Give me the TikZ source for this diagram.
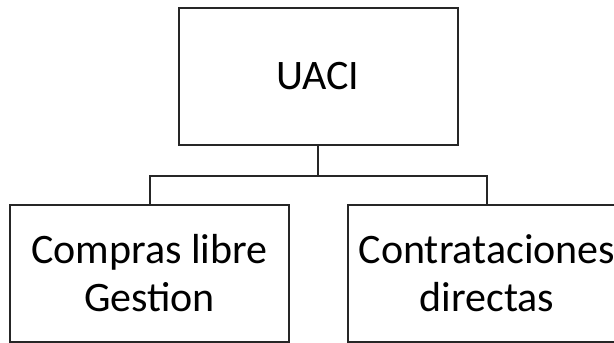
\documentclass[tikz,border=0pt]{standalone}
\usepackage{fontspec}
\setmainfont{Carlito}
\begin{document}
\begin{tikzpicture}[x=1pt,y=-1pt,
  orgbox/.style={draw=black!85, line width=2pt, minimum width=279pt, minimum height=137pt, inner sep=0pt, align=center, font=\fontsize{42}{48}\selectfont},
  link/.style={draw=black!85, line width=2pt}]
\useasboundingbox (0,0) rectangle (614,343);
\clip (0,0) rectangle (614,343);
\node[orgbox] (uaci) at (318,76) {UACI};
\node[orgbox] (compras) at (149.5,273) {Compras libre\\Gestion};
\node[orgbox] (contr) at (487,273) {Contrataciones\\directas};
\coordinate (mid) at (318,176);
\draw[link] (uaci.south) -- (mid);
\draw[link] (compras.north) |- (mid) -| (contr.north);
\end{tikzpicture}
\end{document}
